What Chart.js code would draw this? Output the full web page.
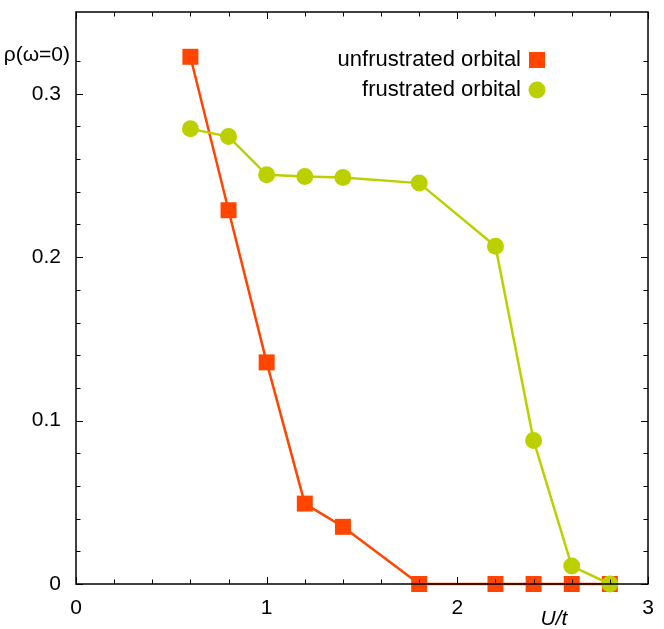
<!DOCTYPE html>
<html>
<head>
<meta charset="utf-8">
<script src="https://cdn.jsdelivr.net/npm/chart.js@4/dist/chart.umd.min.js"></script>
<style>
  html, body { margin: 0; padding: 0; background: #fff; }
  #wrap { width: 664px; height: 629px; }
</style>
</head>
<body>
<div id="wrap"><canvas id="c"></canvas></div>
<script>
// U/t values and rho(omega=0) for both orbitals
const uValues = [0.6, 0.8, 1.0, 1.2, 1.4, 1.8, 2.2, 2.4, 2.6, 2.8];
const rhoUnfrustrated = [0.3226, 0.2287, 0.1356, 0.0492, 0.0350, 0, 0, 0, 0, 0];
const rhoFrustrated = [0.2785, 0.2738, 0.2504, 0.2494, 0.2488, 0.2453, 0.2067, 0.0878, 0.0110, 0];

const seriesNames = ['unfrustrated orbital', 'frustrated orbital'];
const orange = '#ff4500';
const green = '#bcd000';
const FONT = '"Liberation Sans", Arial, Helvetica, sans-serif';

const toPoints = (ys) => uValues.map((x, i) => ({ x: x, y: ys[i] }));

// frame, inward ticks, axis titles and the key
const framePlugin = {
    id: 'frame',
    afterDraw(chart) {
        const { ctx, chartArea: a } = chart;
        const xs = chart.scales.x, ys = chart.scales.y;
        ctx.save();
        ctx.strokeStyle = '#000';
        ctx.lineWidth = 1.5;
        ctx.strokeRect(a.left, a.top, a.right - a.left, a.bottom - a.top);

        ctx.lineWidth = 1;
        ctx.beginPath();
        xs.ticks.forEach(t => {
            const k = t.value / 0.2;
            if (Math.abs(k - Math.round(k)) > 1e-6) return;
            const major = Math.abs(t.value - Math.round(t.value)) < 1e-6;
            const len = major ? 7 : 4.5;
            const px = Math.round(xs.getPixelForValue(t.value)) + 0.5;
            ctx.moveTo(px, a.bottom); ctx.lineTo(px, a.bottom - len);
            ctx.moveTo(px, a.top); ctx.lineTo(px, a.top + len);
        });
        ys.ticks.forEach(t => {
            const k = t.value / 0.02;
            if (Math.abs(k - Math.round(k)) > 1e-6) return;
            const m = t.value / 0.1;
            const major = Math.abs(m - Math.round(m)) < 1e-6;
            const len = major ? 7 : 4.5;
            const py = Math.round(ys.getPixelForValue(t.value)) + 0.5;
            ctx.moveTo(a.left, py); ctx.lineTo(a.left + len, py);
            ctx.moveTo(a.right, py); ctx.lineTo(a.right - len, py);
        });
        ctx.stroke();

        ctx.fillStyle = '#000';
        ctx.font = '21px ' + FONT;
        ctx.textAlign = 'right';
        ctx.textBaseline = 'middle';
        ctx.fillText('ρ(ω=0)', 70, 55);

        ctx.font = 'italic 21px ' + FONT;
        ctx.textAlign = 'center';
        ctx.textBaseline = 'alphabetic';
        ctx.fillText('U/t', 554, 625);

        // key
        ctx.font = '22px ' + FONT;
        ctx.textAlign = 'right';
        ctx.textBaseline = 'middle';
        ctx.fillText(seriesNames[0], 521, 60);
        ctx.fillText(seriesNames[1], 521, 90);
        ctx.fillStyle = orange;
        ctx.fillRect(529, 52, 16, 16);
        ctx.fillStyle = green;
        ctx.beginPath();
        ctx.arc(537, 90, 8.5, 0, Math.PI * 2);
        ctx.fill();
        ctx.restore();
    }
};

new Chart(document.getElementById('c'), {
    type: 'line',
    data: {
        datasets: [
            {
                label: seriesNames[0],
                data: toPoints(rhoUnfrustrated),
                borderColor: orange,
                backgroundColor: orange,
                borderWidth: 2.5,
                pointStyle: 'rect',
                pointRadius: 11.3,
                pointBorderWidth: 0,
                pointHoverRadius: 11.3,
                tension: 0,
                clip: false,
                order: 2
            },
            {
                label: seriesNames[1],
                data: toPoints(rhoFrustrated),
                borderColor: green,
                backgroundColor: green,
                borderWidth: 2.5,
                pointStyle: 'circle',
                pointRadius: 8.5,
                pointBorderWidth: 0,
                pointHoverRadius: 8.5,
                tension: 0,
                clip: false,
                order: 1
            }
        ]
    },
    options: {
        responsive: true,
        maintainAspectRatio: false,
        animation: false,
        events: [],
        layout: { padding: { top: 12, right: 16, left: 0, bottom: 0 } },
        plugins: { legend: { display: false }, tooltip: { enabled: false } },
        scales: {
            x: {
                type: 'linear',
                min: 0,
                max: 3,
                grid: { display: false, drawTicks: false },
                border: { display: false },
                afterFit: (s) => { s.height = 45; s.paddingLeft = 0; s.paddingRight = 0; },
                ticks: {
                    stepSize: 0.2,
                    autoSkip: false,
                    maxRotation: 0,
                    padding: 11.5,
                    color: '#000',
                    font: { family: FONT, size: 21 },
                    callback: (v) => Math.abs(v - Math.round(v)) < 1e-6 ? String(Math.round(v)) : ''
                }
            },
            y: {
                type: 'linear',
                min: 0,
                max: 0.35,
                grid: { display: false, drawTicks: false },
                border: { display: false },
                afterFit: (s) => { s.width = 76; s.paddingTop = 0; s.paddingBottom = 0; },
                ticks: {
                    stepSize: 0.02,
                    autoSkip: false,
                    padding: 15,
                    color: '#000',
                    font: { family: FONT, size: 21 },
                    callback: (v) => {
                        const m = v / 0.1;
                        if (Math.abs(m - Math.round(m)) > 1e-6) return '';
                        const r = Math.round(m);
                        return r === 0 ? '0' : (r / 10).toFixed(1);
                    }
                }
            }
        }
    },
    plugins: [framePlugin]
});
</script>
</body>
</html>
